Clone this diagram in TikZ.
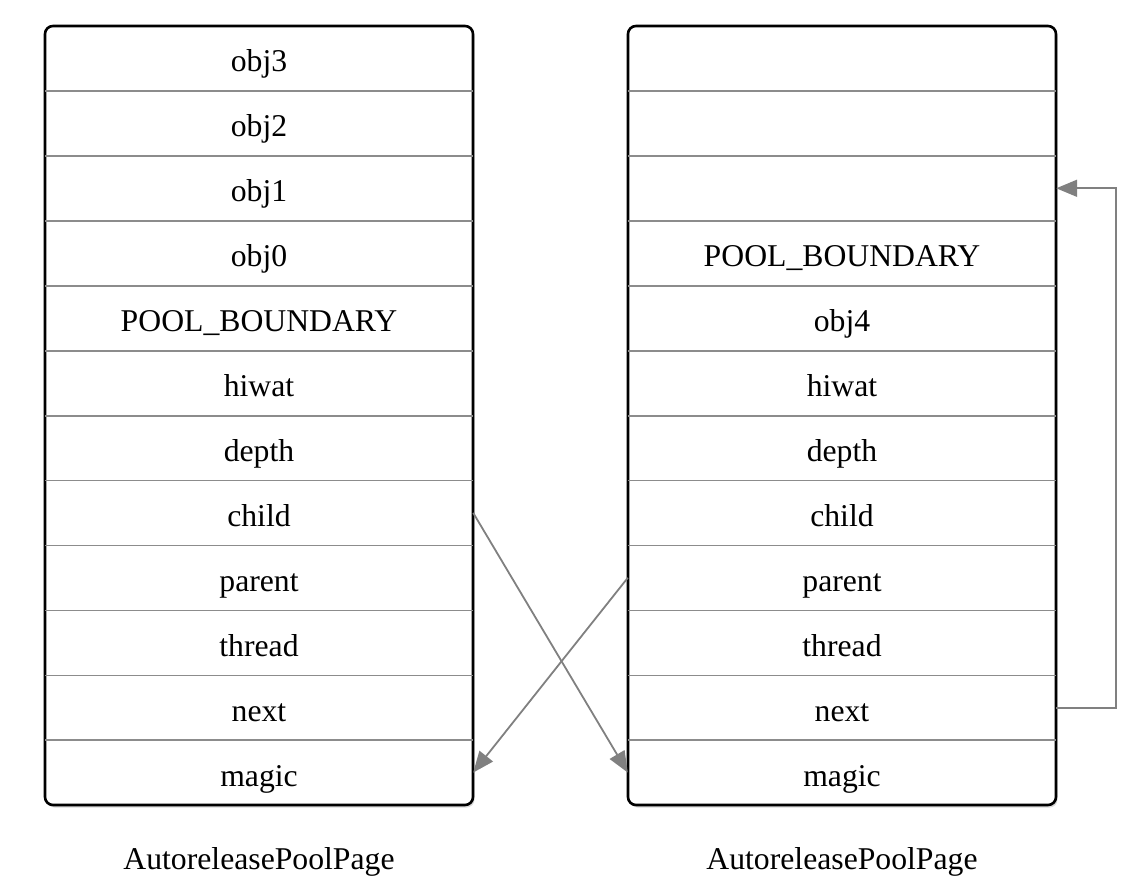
\documentclass[tikz,border=0pt]{standalone}
\usepackage{fontspec}
\setmainfont{Liberation Serif}
\usetikzlibrary{arrows.meta,shadows}
\begin{document}
\begin{tikzpicture}[x=1pt,y=-1pt,
  cell/.style={minimum width=428pt,minimum height=64.92pt,inner sep=0pt,text height=28pt,text depth=1pt,font=\fontsize{31.7}{36}\selectfont},
  frame/.style={draw=black,line width=2.6pt,rounded corners=8pt,fill=white,drop shadow={shadow xshift=1.5pt,shadow yshift=-2.5pt,opacity=0.3,fill=gray}},
  divider/.style={draw=gray!90,line width=1.6pt},
  link/.style={draw=gray,line width=1.8pt,-{Triangle[length=21pt,width=17pt]}},
  caption/.style={inner sep=0pt,text height=28pt,text depth=1pt,font=\fontsize{31.7}{36}\selectfont}]
\useasboundingbox (0,0) rectangle (1148,888);
\draw[frame] (45,26) rectangle (473,805);
\draw[frame] (628,26) rectangle (1056,805);
\foreach \t [count=\i] in {obj3,obj2,obj1,obj0,POOL\_BOUNDARY,hiwat,depth,child,parent,thread,next,magic}
  \node[cell] (L\i) at (259,{26+(\i-0.5)*64.917}) {\t};
\foreach \t [count=\i] in {{},{},{},POOL\_BOUNDARY,obj4,hiwat,depth,child,parent,thread,next,magic}
  \node[cell] (R\i) at (842,{26+(\i-0.5)*64.917}) {\t};
\foreach \i in {1,...,11} {
  \draw[divider] (L\i.south west) -- (L\i.south east);
  \draw[divider] (R\i.south west) -- (R\i.south east);
}
\node[caption] (capL) at (259,856) {AutoreleasePoolPage};
\node[caption] (capR) at (842,856) {AutoreleasePoolPage};
\draw[link] (L8.east) -- (R12.west);
\draw[link] (R9.west) -- (L12.east);
\draw[link] (R11.east) -- ++(60,0) |- (R3.east);
\end{tikzpicture}
\end{document}
